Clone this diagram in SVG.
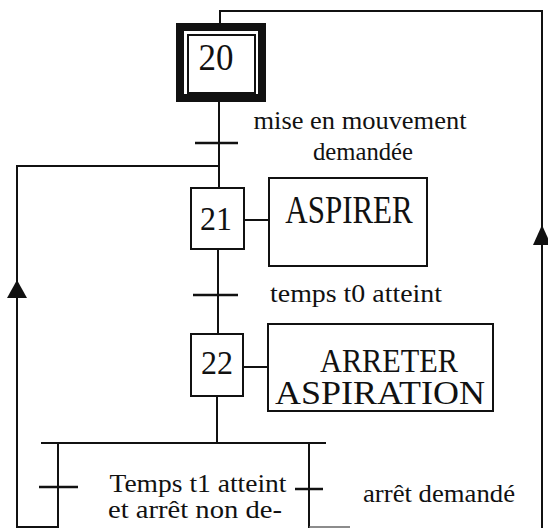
<svg xmlns="http://www.w3.org/2000/svg" width="548" height="528" viewBox="0 0 548 528">
<style>
.ln{fill:none;stroke:#111;stroke-width:2;stroke-linecap:square}
.tr{stroke:#111;stroke-width:2.5}
.box{fill:#fff;stroke:#111;stroke-width:2}
.t{font-family:"Liberation Serif","Times New Roman",serif;fill:#111;text-anchor:middle}
.lbl{font-size:26px}
.num{font-size:32px}
.act{font-size:31px}
.arr{fill:#111;stroke:none}
</style>
<rect width="548" height="528" fill="#fff"/>
<g id="connectors">
  <polyline class="ln" points="220,23 220,11 542,11 542,528"/>
  <polygon class="arr" points="542,225 533,245 551,245"/>
  <line class="ln" x1="219" y1="102" x2="219" y2="188"/>
  <line class="tr" x1="195" y1="143" x2="238" y2="143"/>
  <line class="ln" x1="17" y1="166" x2="219" y2="166"/>
  <line class="ln" x1="244" y1="220" x2="269" y2="220"/>
  <line class="ln" x1="218" y1="249" x2="218" y2="334"/>
  <line class="tr" x1="193" y1="295" x2="238" y2="295"/>
  <line class="ln" x1="243" y1="367" x2="268" y2="367"/>
  <line class="ln" x1="217" y1="396" x2="217" y2="443"/>
  <line class="ln" x1="42" y1="443" x2="325" y2="443"/>
  <polyline class="ln" points="58,443 58,527 17,527 17,166"/>
  <line class="tr" x1="39" y1="487" x2="78" y2="487"/>
  <polygon class="arr" points="17,280 7,298 27,298"/>
  <line class="ln" x1="309" y1="443" x2="309" y2="528"/>
  <line class="tr" x1="295" y1="489" x2="323" y2="489"/>
  <line x1="309" y1="527" x2="350" y2="527" stroke="#666" stroke-width="1.5"/>
</g>
<g id="step20">
  <rect x="180" y="27" width="82" height="71" fill="#fff" stroke="#111" stroke-width="8"/>
  <rect x="188" y="35" width="67" height="58" class="box"/>
  <text class="t" font-size="35" transform="translate(216,70) scale(1,1.08)">20</text>
</g>
<g id="t20">
  <text class="t lbl" x="360" y="129" textLength="213" lengthAdjust="spacingAndGlyphs">mise en mouvement</text>
  <text class="t lbl" x="363" y="160" textLength="100" lengthAdjust="spacingAndGlyphs">demandée</text>
</g>
<g id="step21">
  <rect x="191" y="188" width="53" height="61" class="box"/>
  <text class="t num" transform="translate(216,230) scale(1,1.05)">21</text>
</g>
<g id="action21">
  <rect x="269" y="178" width="158" height="88" class="box"/>
  <text class="t act" transform="translate(349,223) scale(1,1.3)">ASPIRER</text>
</g>
<g id="t21">
  <text class="t lbl" x="356" y="302" textLength="172" lengthAdjust="spacingAndGlyphs">temps t0 atteint</text>
</g>
<g id="step22">
  <rect x="191" y="334" width="52" height="62" class="box"/>
  <text class="t num" transform="translate(217,374) scale(1,1.05)">22</text>
</g>
<g id="action22">
  <rect x="268" y="324" width="225" height="87" class="box"/>
  <text class="t act" transform="translate(389,372) scale(1,1.12)" textLength="138" lengthAdjust="spacingAndGlyphs">ARRETER</text>
  <text class="t act" transform="translate(380,404) scale(1,1.12)" textLength="210" lengthAdjust="spacingAndGlyphs">ASPIRATION</text>
</g>
<g id="t22a">
  <text class="t lbl" x="198" y="492" textLength="177" lengthAdjust="spacingAndGlyphs">Temps t1 atteint</text>
  <text class="t lbl" x="195" y="518" textLength="174" lengthAdjust="spacingAndGlyphs">et arrêt non de-</text>
</g>
<g id="t22b">
  <text class="t lbl" x="439" y="502" textLength="152" lengthAdjust="spacingAndGlyphs">arrêt demandé</text>
</g>
</svg>
